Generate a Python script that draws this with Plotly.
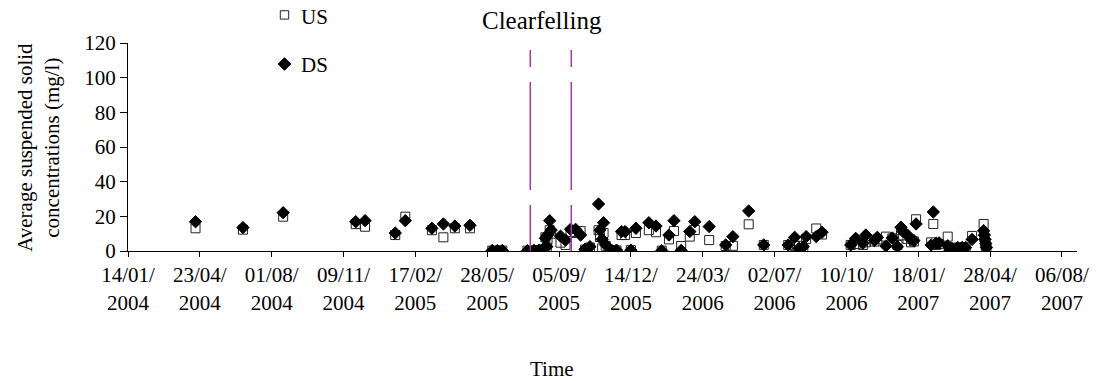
import plotly.graph_objects as go

# Sampling dates and average suspended solid concentrations (mg/l)
dates = [
    "2004-04-17", "2004-06-22", "2004-08-17", "2004-11-26", "2004-12-09",
    "2005-01-20", "2005-02-03", "2005-03-12", "2005-03-28", "2005-04-13",
    "2005-05-04", "2005-06-04", "2005-06-11", "2005-06-18", "2005-07-23",
    "2005-08-01", "2005-08-08", "2005-08-15", "2005-08-17", "2005-08-19",
    "2005-08-20", "2005-08-23", "2005-08-25", "2005-09-07", "2005-09-14",
    "2005-09-21", "2005-09-28", "2005-10-05", "2005-10-11", "2005-10-18",
    "2005-10-30", "2005-11-01", "2005-11-04", "2005-11-06", "2005-11-09",
    "2005-11-17", "2005-11-24", "2005-12-01", "2005-12-06", "2005-12-14",
    "2005-12-21", "2006-01-08", "2006-01-18", "2006-01-26", "2006-02-05",
    "2006-02-12", "2006-02-22", "2006-03-06", "2006-03-13", "2006-04-02",
    "2006-04-25", "2006-05-05", "2006-05-27", "2006-06-17", "2006-07-21",
    "2006-07-30", "2006-08-05", "2006-08-11", "2006-08-15", "2006-08-29",
    "2006-09-06", "2006-10-16", "2006-10-23", "2006-11-02", "2006-11-06",
    "2006-11-18", "2006-11-22", "2006-12-04", "2006-12-13", "2006-12-20",
    "2006-12-25", "2006-12-28", "2007-01-03", "2007-01-08", "2007-01-12",
    "2007-01-15", "2007-02-05", "2007-02-08", "2007-02-12", "2007-02-16",
    "2007-02-28", "2007-03-03", "2007-03-06", "2007-03-14", "2007-03-20",
    "2007-03-25", "2007-04-03", "2007-04-19", "2007-04-20", "2007-04-21",
    "2007-04-22", "2007-04-23",
]

us = [
    13.1, 12.3, 19.8, 15.5, 14.0,
    9.2, 19.8, 12.0, 7.9, 13.1,
    13.1, 0.2, 0.2, 0.3, 0.2,
    0.3, 0.5, 1.0, 7.9, 2.0,
    6.5, 12.0, 10.0, 4.8, 3.5,
    11.0, 10.4, 11.5, 0.8, 2.0,
    12.0, 8.0, 1.5, 10.4, 3.0,
    0.5, 0.3, 9.2, 9.2, 0.5,
    10.4, 12.0, 10.8, 0.2, 6.7,
    11.5, 2.9, 8.3, 12.1, 6.3,
    2.9, 3.0, 15.4, 3.5, 3.5,
    3.0, 3.0, 1.5, 7.0, 13.0,
    9.5, 3.5, 4.0, 3.5, 5.0,
    5.4, 6.7, 8.3, 7.3, 3.5,
    12.0, 9.0, 7.0, 5.0, 5.5,
    18.3, 5.0, 15.6, 3.5, 4.0,
    8.3, 1.0, 1.5, 2.0, 2.0,
    2.0, 8.7, 15.6, 8.0, 5.0,
    3.0, 1.5,
]

ds = [
    16.9, 13.5, 22.1, 16.9, 17.5,
    10.4, 17.5, 13.1, 15.6, 14.4,
    14.8, 0.3, 0.2, 0.3, 0.2,
    0.3, 0.4, 1.5, 7.3, 2.5,
    9.2, 17.5, 12.1, 8.6, 6.3,
    12.5, 12.5, 9.2, 1.0, 2.5,
    27.1, 12.1, 6.7, 16.3, 3.5,
    0.5, 0.5, 11.2, 11.2, 0.5,
    13.1, 16.3, 14.4, 0.2, 9.2,
    17.5, 0.3, 11.2, 16.9, 14.1,
    3.5, 8.3, 23.1, 3.5, 3.5,
    7.9, 1.5, 2.5, 8.3, 8.3,
    10.8, 3.5, 7.3, 4.5, 9.2,
    6.0, 7.9, 2.9, 7.5, 2.5,
    13.7, 11.2, 9.2, 6.7, 6.0,
    15.6, 3.5, 22.5, 4.5, 4.7,
    3.0, 0.5, 1.5, 2.0, 2.0,
    2.0, 6.7, 11.7, 9.2, 6.7,
    4.3, 2.0,
]

# Date axis ticks, every 100 days
tick_dates = [
    "2004-01-14", "2004-04-23", "2004-08-01", "2004-11-09", "2005-02-17",
    "2005-05-28", "2005-09-05", "2005-12-14", "2006-03-24", "2006-07-02",
    "2006-10-10", "2007-01-18", "2007-04-28", "2007-08-06",
]
tick_labels = [
    "14/01/<br>2004", "23/04/<br>2004", "01/08/<br>2004", "09/11/<br>2004",
    "17/02/<br>2005", "28/05/<br>2005", "05/09/<br>2005", "14/12/<br>2005",
    "24/03/<br>2006", "02/07/<br>2006", "10/10/<br>2006", "18/01/<br>2007",
    "28/04/<br>2007", "06/08/<br>2007",
]

# Start and end of the clearfelling period
clearfelling = ["2005-07-27", "2005-09-22"]

FONT = "Liberation Serif, Times New Roman, serif"

fig = go.Figure()
fig.add_trace(go.Scatter(
    x=dates, y=us, mode="markers", name="US",
    marker=dict(symbol="square-open", size=9, color="#222222",
                line=dict(width=1, color="#222222")),
))
fig.add_trace(go.Scatter(
    x=dates, y=ds, mode="markers", name="DS",
    marker=dict(symbol="diamond", size=9.5, color="black",
                line=dict(width=1, color="black")),
))

for d in clearfelling:
    fig.add_shape(
        type="line", xref="x", yref="paper", x0=d, x1=d, y0=0.966, y1=0,
        line=dict(color="#A43AAE", width=1.5, dash="17px,15px,108px,15px,120px"),
    )

# Legend keys drawn above the plot area (pixel-sized, anchored in paper space)
key_x = 0.1649          # horizontal centre of the keys
us_key_y = 1.135
ds_key_y = 0.899
fig.add_shape(
    type="rect", xref="paper", yref="paper",
    xsizemode="pixel", ysizemode="pixel",
    xanchor=key_x, yanchor=us_key_y, x0=-4.2, x1=4.2, y0=-4.2, y1=4.2,
    line=dict(color="#222222", width=1), fillcolor="white",
)
fig.add_shape(
    type="path", xref="paper", yref="paper",
    xsizemode="pixel", ysizemode="pixel",
    xanchor=key_x, yanchor=ds_key_y,
    path="M -6.3 0 L 0 6.3 L 6.3 0 L 0 -6.3 Z",
    line=dict(color="black", width=1), fillcolor="black",
)
fig.add_annotation(
    text="US", xref="paper", yref="paper", x=0.1807, y=1.125,
    showarrow=False, font=dict(family=FONT, size=21, color="black"),
    xanchor="left", yanchor="middle",
)
fig.add_annotation(
    text="DS", xref="paper", yref="paper", x=0.1807, y=0.894,
    showarrow=False, font=dict(family=FONT, size=21, color="black"),
    xanchor="left", yanchor="middle",
)

fig.add_annotation(
    text="Clearfelling", xref="paper", yref="paper", x=0.436, y=1.11,
    showarrow=False, font=dict(family=FONT, size=25, color="black"),
    xanchor="center", yanchor="middle",
)
fig.add_annotation(
    text="Average suspended solid<br>concentrations (mg/l)", textangle=-90,
    xref="paper", yref="paper", x=-0.095, y=0.5, showarrow=False,
    font=dict(family=FONT, size=21, color="black"),
    xanchor="center", yanchor="middle",
)
fig.add_annotation(
    text="Time", xref="paper", yref="paper", x=0.4464, y=-0.567,
    showarrow=False, font=dict(family=FONT, size=21, color="black"),
    xanchor="center", yanchor="middle",
)

fig.update_layout(
    width=1101, height=381,
    margin=dict(l=128, r=21, t=43, b=130),
    paper_bgcolor="white", plot_bgcolor="white",
    font=dict(family=FONT, size=21, color="black"),
    showlegend=False,
    xaxis=dict(
        type="date", range=["2004-01-14", "2007-08-27"],
        tickmode="array", tickvals=tick_dates, ticktext=tick_labels,
        showgrid=False, zeroline=False, showline=True, linecolor="black",
        linewidth=1, ticks="outside", ticklen=5, tickcolor="black",
        tickfont=dict(family=FONT, size=21, color="black"), tickangle=0,
    ),
    yaxis=dict(
        range=[0, 120], dtick=20, tick0=0,
        showgrid=False, zeroline=False, showline=True, linecolor="black",
        linewidth=1, ticks="outside", ticklen=7, tickcolor="black",
        tickfont=dict(family=FONT, size=21, color="black"),
    ),
)

fig.write_html("out.html")
